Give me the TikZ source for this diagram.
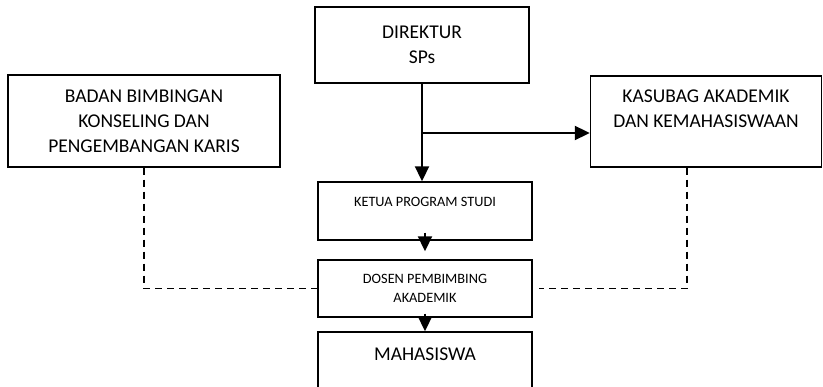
\documentclass[tikz,border=0pt]{standalone}
\usepackage{fontspec}
\setmainfont{Carlito}
\usetikzlibrary{arrows.meta}

\tikzset{
  bigtext/.style={font=\fontsize{19.5}{25}\selectfont},
  smalltext/.style={font=\fontsize{14.3}{19}\selectfont},
  arrow/.style={line width=2pt,-{Triangle[length=15pt,width=14pt]}},
  dashline/.style={line width=1.6pt,dash pattern=on 7pt off 5pt}
}

\begin{document}
\begin{tikzpicture}[x=1pt,y=-1pt]

        \useasboundingbox (0,0) rectangle (823,387);

        \begin{scope}[every node/.style={draw,line width=1.4pt,inner sep=0pt,align=center}]
          \node[bigtext,minimum width=214pt,minimum height=76pt]   (dir)     at (422,45)    {DIREKTUR\\SPs};
          \node[bigtext,minimum width=272pt,minimum height=92pt]   (bk)      at (144,121)   {BADAN BIMBINGAN\\KONSELING DAN\\PENGEMBANGAN KARIS};
          \node[bigtext,minimum width=231pt,minimum height=91pt]   (kasubag) at (706,121.5) {KASUBAG AKADEMIK\\DAN KEMAHASISWAAN\\\mbox{}};
          \node[smalltext,minimum width=214pt,minimum height=58pt] (ketua)   at (425,211)   {KETUA PROGRAM STUDI\\\mbox{}};
          \node[smalltext,minimum width=214pt,minimum height=57pt] (dosen)   at (425,288.5) {DOSEN PEMBIMBING\\AKADEMIK};
          \node[bigtext,minimum width=214pt,minimum height=70pt]   (mhs)     at (425,367)   {MAHASISWA\\\mbox{}};
        \end{scope}

        \coordinate (split) at (422,133);

        % garis komando
        \draw[arrow] (dir.south) -- (dir.south |- ketua.north);
        \draw[arrow] (split) -- (split -| kasubag.west);
        \draw[arrow] ([yshift=8pt]ketua.south) -- ([yshift=8pt]dosen.north);
        \draw[arrow] ([yshift=4pt]dosen.south) -- (mhs.north);

        % garis koordinasi
        \draw[dashline] (bk.south) |- (dosen.west);
        \draw[dashline] ([xshift=-19pt]kasubag.south) |- ([xshift=6pt]dosen.east);

      \end{tikzpicture}
\end{document}
